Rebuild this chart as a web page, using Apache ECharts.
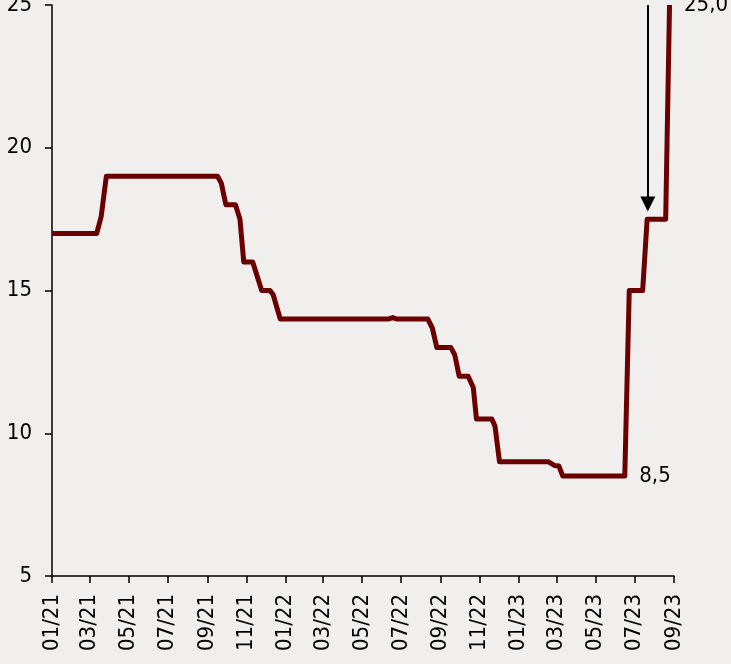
<!DOCTYPE html>
<html>
<head>
<meta charset="utf-8">
<script src="https://cdn.jsdelivr.net/npm/echarts@6/dist/echarts.min.js"></script>
<style>
html,body{margin:0;padding:0;background:#f1efee;}
#chart{width:731px;height:664px;}
</style>
</head>
<body>
<div id="chart"></div>
<script>
var dates = ['2021-01-01','2021-03-12','2021-03-19','2021-03-27','2021-09-17','2021-09-23','2021-09-30',
  '2021-10-15','2021-10-22','2021-10-28','2021-11-11','2021-11-25','2021-12-08','2021-12-13','2021-12-24',
  '2022-06-11','2022-06-18','2022-06-25','2022-08-12','2022-08-19','2022-08-26','2022-09-17','2022-09-23',
  '2022-09-30','2022-10-14','2022-10-22','2022-10-27','2022-11-20','2022-11-25','2022-12-02','2023-02-17',
  '2023-02-26','2023-03-05','2023-03-11','2023-06-16','2023-06-23','2023-07-14','2023-07-21','2023-08-19',
  '2023-08-25'];
var values = [17,17,17.6,19,19,18.75,18,
  18,17.5,16,16,15,15,14.85,14,
  14,14.05,14,14,13.68,13,13,12.75,
  12,12,11.6,10.5,10.5,10.25,9,9,
  8.87,8.85,8.5,8.5,15,15,17.5,17.5,
  25];
var tickLabels = ['01/21','03/21','05/21','07/21','09/21','11/21','01/22','03/22','05/22',
  '07/22','09/22','11/22','01/23','03/23','05/23','07/23','09/23'];
var yTicks = [5,10,15,20,25];
var pointLabels = [['2023-06-16',8.5,'8,5'],['2023-08-25',25,'25,0']];
var arrowDate = '2023-07-22';
var arrowFrom = 25, arrowTo = 18.03;

function dateToTime(s){
  var p = s.split('-');
  return Date.UTC(parseInt(p[0],10), parseInt(p[1],10) - 1, parseInt(p[2],10));
}
function labelToTime(s){
  var p = s.split('/');
  return Date.UTC(2000 + parseInt(p[1],10), parseInt(p[0],10) - 1, 1);
}
var tickTimes = tickLabels.map(labelToTime);
function fmt(v){
  var i = tickTimes.indexOf(v);
  return i >= 0 ? tickLabels[i] : '';
}

var FONT = '"DejaVu Sans Condensed","DejaVu Sans",sans-serif';
var chart = echarts.init(document.getElementById('chart'));
chart.setOption({
  backgroundColor: '#f1efee',
  animation: false,
  grid: {left: 52, right: 57, top: 5, bottom: 88, containLabel: false, outerBoundsMode: 'none'},
  xAxis: {
    type: 'value',
    min: tickTimes[0],
    max: tickTimes[tickTimes.length - 1],
    axisLine: {lineStyle: {color: '#000', width: 1.5}},
    axisTick: {show: true, length: 7, lineStyle: {color: '#000', width: 1.5}, customValues: tickTimes},
    splitLine: {show: false},
    axisLabel: {
      customValues: tickTimes,
      rotate: 90,
      margin: 18,
      color: '#000',
      fontFamily: FONT,
      fontSize: 22,
      hideOverlap: false,
      formatter: fmt
    }
  },
  yAxis: {
    type: 'value',
    min: yTicks[0],
    max: yTicks[yTicks.length - 1],
    interval: 5,
    axisLine: {show: true, lineStyle: {color: '#000', width: 1.5}},
    axisTick: {show: true, length: 7, lineStyle: {color: '#000', width: 1.5}},
    splitLine: {show: false},
    axisLabel: {color: '#000', fontFamily: FONT, fontSize: 22, margin: 20}
  },
  series: [{
    type: 'line',
    clip: false,
    showSymbol: false,
    data: dates.map(function (d, i) { return [dateToTime(d), values[i]]; }),
    lineStyle: {color: '#6b0000', width: 5, join: 'round', cap: 'butt'},
    itemStyle: {color: '#6b0000'},
    markPoint: {
      silent: true,
      symbol: 'circle',
      symbolSize: 1,
      itemStyle: {color: 'rgba(0,0,0,0)'},
      label: {show: true, position: 'right', distance: 14, color: '#000', fontFamily: FONT, fontSize: 22},
      data: pointLabels.map(function (p) {
        return {coord: [dateToTime(p[0]), p[1]], label: {formatter: p[2]}};
      })
    },
    markLine: {
      silent: true,
      symbol: ['none', 'triangle'],
      symbolSize: [15, 15],
      label: {show: false},
      lineStyle: {color: '#000', width: 2, type: 'solid'},
      data: [[{coord: [dateToTime(arrowDate), arrowFrom]}, {coord: [dateToTime(arrowDate), arrowTo]}]]
    }
  }]
});
</script>
</body>
</html>
